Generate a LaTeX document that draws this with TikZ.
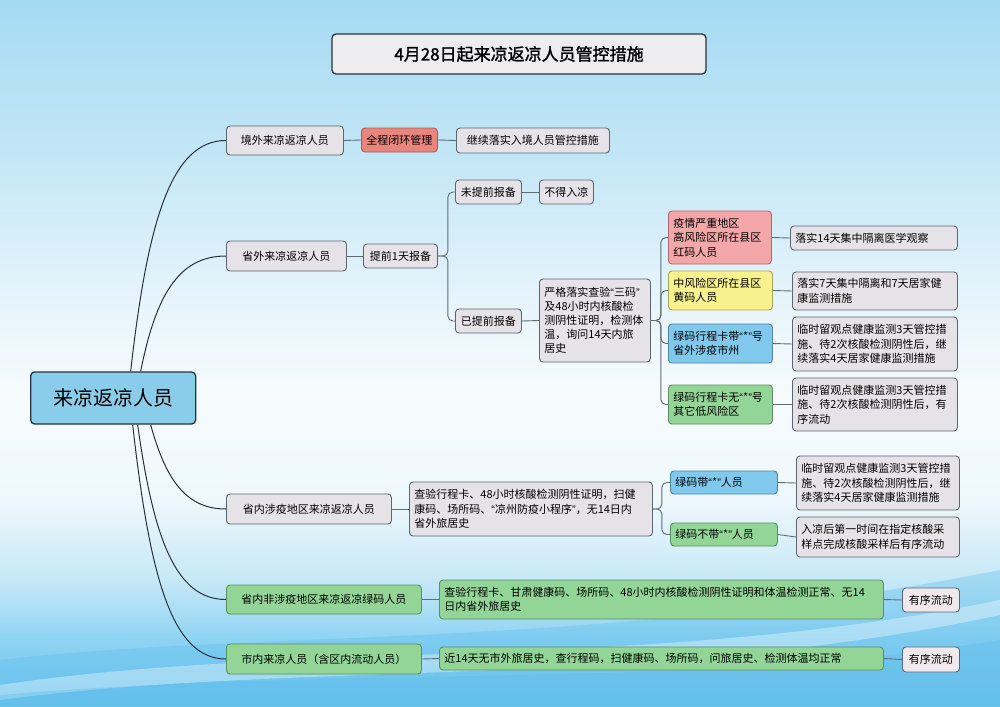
\documentclass[tikz,border=0pt]{standalone}
\usepackage{fontspec}
\setmainfont{Noto Sans CJK SC}[AutoFakeBold=1.5]
\newfontfamily\qfont{Liberation Sans}
\newcommand\qL{{\qfont “}}
\newcommand\qR{{\qfont ”}}
\definecolor{gfill}{HTML}{E6E3E8}
\definecolor{bd}{HTML}{5A6672}
\definecolor{lc}{HTML}{5E6C78}
\definecolor{rc}{HTML}{28323C}
\definecolor{redf}{HTML}{E8857C}\definecolor{redb}{HTML}{A85A55}
\definecolor{pinkf}{HTML}{F3A7A8}\definecolor{pinkb}{HTML}{A86A6A}
\definecolor{yelf}{HTML}{F7F28E}\definecolor{yelb}{HTML}{A8A35A}
\definecolor{bluef}{HTML}{80C8EC}\definecolor{blueb}{HTML}{4C86A8}
\definecolor{grnf}{HTML}{92D596}\definecolor{grnb}{HTML}{5A9060}
\definecolor{flowf}{HTML}{F1E8EC}
\definecolor{rootf}{HTML}{8ACDEB}
\definecolor{titf}{HTML}{EDEDEF}
\definecolor{bgA}{HTML}{6FC4EE}
\definecolor{bgB}{HTML}{8ED3F3}
\definecolor{bgC}{HTML}{C6E8F7}
\definecolor{bgD}{HTML}{EEF8FC}
\definecolor{bgE}{HTML}{F7FBFD}
\definecolor{bgF}{HTML}{E6F4FB}
\definecolor{bgG}{HTML}{C2E6F6}
\definecolor{bgH}{HTML}{A5DAF3}
\definecolor{wv}{HTML}{5DBDEB}
\pgfdeclareverticalshading{bgshade}{100bp}{color(0bp)=(bgA); color(25bp)=(bgA); color(29.7bp)=(bgB); color(33.9bp)=(bgC); color(39.6bp)=(bgD); color(46.7bp)=(bgE); color(53.8bp)=(bgF); color(64.4bp)=(bgG); color(75bp)=(bgH); color(100bp)=(bgH)}
\tikzset{
  bx/.style={draw=bd, line width=0.9pt, rounded corners=3.5pt, fill=gfill, inner xsep=5pt, inner ysep=2pt, anchor=west, font=\fontsize{11}{14.5}\selectfont},
  redbox/.style={bx, fill=redf, draw=redb},
  pinkbox/.style={bx, fill=pinkf, draw=pinkb},
  yelbox/.style={bx, fill=yelf, draw=yelb},
  bluebox/.style={bx, fill=bluef, draw=blueb},
  grnbox/.style={bx, fill=grnf, draw=grnb},
  flowbox/.style={bx, fill=flowf},
  conn/.style={draw=lc, line width=0.9pt},
  elb/.style={conn, rounded corners=5pt},
  rcurve/.style={draw=rc, line width=1pt}
}
\begin{document}
\begin{tikzpicture}[x=1pt,y=-1pt]
\useasboundingbox (0,0) rectangle (1000,706);
\shade[shading=bgshade] (0,0) rectangle (1000,706);
\fill[wv, opacity=0.35] (0,706) -- (0,660) .. controls (250,630) and (600,650) .. (1000,570) -- (1000,706) -- cycle;
\fill[white, opacity=0.35] (0,685) .. controls (300,640) and (650,672) .. (1000,600) -- (1000,615) .. controls (650,690) and (300,660) .. (0,700) -- cycle;
\fill[wv, opacity=0.35] (0,706) -- (0,695) .. controls (350,665) and (700,690) .. (1000,640) -- (1000,706) -- cycle;

% title
\node[draw=rc, line width=1.3pt, fill=titf, rounded corners=4pt, minimum width=374, minimum height=40, font=\bfseries\fontsize{17}{20}\selectfont] (title) at (519,54) {4月28日起来凉返凉人员管控措施};

% root
\node[draw=rc, line width=1.3pt, fill=rootf, rounded corners=4pt, anchor=west, minimum width=165, minimum height=52, font=\fontsize{20}{24}\selectfont] (root) at (30,398) {来凉返凉人员};

% branch 1
\node[bx, minimum width=117, minimum height=29] (b1) at (226,140.5) {境外来凉返凉人员};
\node[redbox, minimum width=76, minimum height=24] (b1a) at (361,140) {全程闭环管理};
\node[bx, minimum width=153, minimum height=25] (b1b) at (456,140.5) {继续落实入境人员管控措施};

% branch 2
\node[bx, minimum width=120, minimum height=30] (b2) at (226,256) {省外来凉返凉人员};
\node[bx, minimum width=74, minimum height=24] (b2a) at (363,256) {提前1天报备};
\node[bx, minimum width=66, minimum height=24] (n1) at (455,192) {未提前报备};
\node[bx, minimum width=54, minimum height=24] (n2) at (539,192) {不得入凉};
\node[bx, minimum width=66, minimum height=24] (y1) at (455,321) {已提前报备};
\node[bx, text width=101, align=left, minimum height=83, font=\fontsize{11}{14}\selectfont] (y2) at (539,320.5) {严格落实查验\qL 三码\qR\\及48小时内核酸检\\测阴性证明，检测体\\温，询问14天内旅\\居史};

\node[pinkbox, text width=93, align=left, minimum height=53] (r1) at (668,237.5) {疫情严重地区\\高风险区所在县区\\红码人员};
\node[bx, text width=157, align=left, minimum height=24] (r1b) at (790,238) {落实14天集中隔离医学观察};
\node[yelbox, text width=94, align=left, minimum height=39] (r2) at (668,290.5) {中风险区所在县区\\黄码人员};
\node[bx, text width=155, align=left, minimum height=38] (r2b) at (792,291) {落实7天集中隔离和7天居家健\\康监测措施};
\node[bluebox, text width=94, align=left, minimum height=39] (r3) at (668,343.5) {绿码行程卡带\qL*\qR 号\\省外涉疫市州};
\node[bx, text width=155, align=left, minimum height=54] (r3b) at (792,344) {临时留观点健康监测3天管控措\\施、待2次核酸检测阴性后，继\\续落实4天居家健康监测措施};
\node[grnbox, text width=94, align=left, minimum height=39] (r4) at (668,404.5) {绿码行程卡无\qL*\qR 号\\其它低风险区};
\node[bx, text width=155, align=left, minimum height=53] (r4b) at (792,404.5) {临时留观点健康监测3天管控措\\施、待2次核酸检测阴性后，有\\序流动};

% branch 3
\node[bx, minimum width=165, minimum height=30] (b3) at (226,509) {省内涉疫地区来凉返凉人员};
\node[bx, text width=233, align=left, minimum height=54] (b3a) at (409,509) {查验行程卡、48小时核酸检测阴性证明，扫健\\康码、场所码、\qL 凉州防疫小程序\qR，无14日内\\省外旅居史};
\node[bluebox, text width=97, align=left, minimum height=23] (c1) at (670,482.5) {绿码带\qL*\qR 人员};
\node[bx, text width=153, align=left, minimum height=54] (c1x) at (796,483) {临时留观点健康监测3天管控措\\施、待2次核酸检测阴性后，继\\续落实4天居家健康监测措施};
\node[grnbox, text width=97, align=left, minimum height=23] (c2) at (670,534.5) {绿码不带\qL*\qR 人员};
\node[bx, text width=153, align=left, minimum height=40] (c2x) at (796,537) {入凉后第一时间在指定核酸采\\样点完成核酸采样后有序流动};

% branch 4
\node[grnbox, minimum width=195, minimum height=29] (b4) at (226,599.5) {省内非涉疫地区来凉返凉绿码人员};
\node[grnbox, text width=434, align=left, minimum height=39] (b4a) at (439,599.5) {查验行程卡、甘肃健康码、场所码、48小时内核酸检测阴性证明和体温检测正常、无14\\日内省外旅居史};
\node[flowbox, minimum width=57, minimum height=24] (b4b) at (902,600) {有序流动};

% branch 5
\node[grnbox, minimum width=195, minimum height=30] (b5) at (226,659) {市内来凉人员（含区内流动人员）};
\node[grnbox, text width=434, align=left, minimum height=23] (b5a) at (439,658.5) {近14天无市外旅居史，查行程码，扫健康码、场所码，问旅居史、检测体温均正常};
\node[flowbox, minimum width=57, minimum height=25] (b5b) at (902,659.5) {有序流动};

% root curves
\draw[rcurve] ([xshift=17.5pt]root.north) .. controls +(17,-150) and +(-55,0) .. (b1.west);
\draw[rcurve] ([xshift=27.5pt]root.north) .. controls +(15,-75) and +(-48,0) .. (b2.west);
\draw[rcurve] ([xshift=37.5pt]root.south) .. controls +(15,55) and +(-40,0) .. (b3.west);
\draw[rcurve] ([xshift=24.5pt]root.south) .. controls +(16,115) and +(-50,0) .. (b4.west);
\draw[rcurve] ([xshift=19.5pt]root.south) .. controls +(17,150) and +(-55,0) .. (b5.west);

% connectors
\draw[conn] (b1.east) -- (b1a.west);
\draw[conn] (b1a.east) -- (b1b.west);
\draw[conn] (b2.east) -- (b2a.west);
\draw[elb] (b2a.east) -- ([xshift=10pt]b2a.east) |- (n1.west);
\draw[elb] (b2a.east) -- ([xshift=10pt]b2a.east) |- (y1.west);
\draw[conn] (n1.east) -- (n2.west);
\draw[conn] (y1.east) -- (y2.west);
\draw[elb] (y2.east) -- ([xshift=10pt]y2.east) |- (r1.west);
\draw[elb] (y2.east) -- ([xshift=10pt]y2.east) |- (r2.west);
\draw[elb] (y2.east) -- ([xshift=10pt]y2.east) |- (r3.west);
\draw[elb] (y2.east) -- ([xshift=10pt]y2.east) |- (r4.west);
\draw[conn] (r1.east) -- (r1b.west);
\draw[conn] (r2.east) -- (r2b.west);
\draw[conn] (r3.east) -- (r3b.west);
\draw[conn] (r4.east) -- (r4b.west);
\draw[conn] (b3.east) -- (b3a.west);
\draw[elb] (b3a.east) -- ([xshift=9pt]b3a.east) |- (c1.west);
\draw[elb] (b3a.east) -- ([xshift=9pt]b3a.east) |- (c2.west);
\draw[conn] (c1.east) -- (c1x.west);
\draw[conn] (c2.east) -- (c2x.west);
\draw[conn] (b4.east) -- (b4a.west);
\draw[conn] (b4a.east) -- (b4b.west);
\draw[conn] (b5.east) -- (b5a.west);
\draw[conn] (b5a.east) -- (b5b.west);
\end{tikzpicture}
\end{document}
